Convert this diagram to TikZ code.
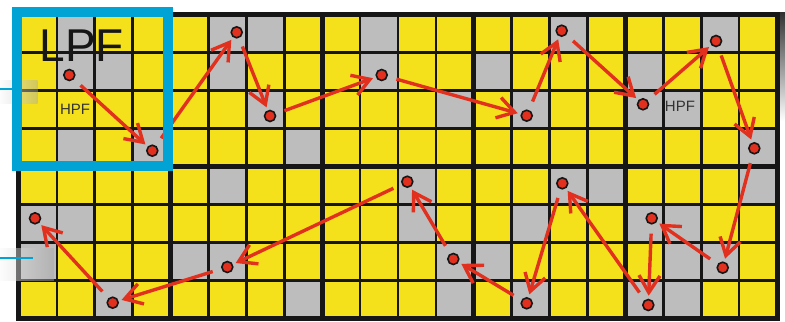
\documentclass[tikz,border=0pt]{standalone}
\usepackage{fontspec}
\usepackage{tikz}
\usetikzlibrary{arrows.meta}
\newfontfamily\labelfont{Liberation Sans}

\definecolor{cellyellow}{HTML}{F5E11B}
\definecolor{cellgray}{HTML}{BDBDBD}
\definecolor{gridblack}{HTML}{161616}
\definecolor{pathred}{HTML}{E2301F}
\definecolor{lpfblue}{HTML}{00A3D3}

\begin{document}
\begin{tikzpicture}[x=37.9pt,y=-38pt,
  dot/.style={circle,draw=gridblack,line width=1.6pt,fill=pathred,minimum size=11pt,inner sep=0pt},
  jump/.style={pathred,line width=3.4pt,-{Straight Barb[length=17pt,width=21pt]},shorten <=9pt,shorten >=3pt},
  thin grid/.style={gridblack,line width=2.7pt},
  thick grid/.style={gridblack,line width=5pt}]

\useasboundingbox (-0.5013,-0.3816) rectangle (20.211,8.066);

% cells
\fill[cellyellow] (0,0) rectangle (20,8);
\foreach \c/\r in {1/0,1/1,2/1,1/3,3/3, 5/0,6/0,5/1,6/2,7/3, 9/0,9/1,11/2,
  14/0,12/1,13/2, 18/0,16/1,16/2,17/2,19/3,
  0/5,1/5,0/6,2/7, 5/4,4/6,5/6,7/7, 10/4,10/5,11/6,11/7,
  14/4,15/4,13/5,12/6,13/7, 19/4,16/5,17/5,17/6,18/6,16/7,17/7}
  \fill[cellgray] (\c,\r) rectangle ++(1,1);

% grid lines
\foreach \i in {1,...,19} \draw[thin grid] (\i,0) -- (\i,8);
\foreach \j in {1,...,7} \draw[thin grid] (0,\j) -- (20,\j);
\foreach \i in {4,8,12,16} \draw[thick grid] (\i,0) -- (\i,8);
\draw[thick grid] (0,4) -- (20,4);
\draw[thick grid] (0,0) rectangle (20,8);

% shadows at the edges
\shade[left color=gray!5,right color=gray!70,opacity=0.45] (-0.5013,1.742) rectangle (0.493,2.329);
\shade[left color=gray!5,right color=gray!70,opacity=0.45] (-0.5013,6.145) rectangle (0.923,6.987);
\shade[top color=black!80,bottom color=white] (20.079,-0.04) rectangle (20.211,2.8);

% sample points
\node[dot] (d1) at (1.327,1.592) {};
\node[dot] (d2) at (3.517,3.584) {};
\node[dot] (d3) at (5.744,0.468) {};
\node[dot] (d4) at (6.623,2.671) {};
\node[dot] (d5) at (9.570,1.592) {};
\node[dot] (d6) at (13.396,2.663) {};
\node[dot] (d7) at (14.319,0.426) {};
\node[dot] (d8) at (16.464,2.363) {};
\node[dot] (d9) at (18.391,0.697) {};
\node[dot] (d10) at (19.401,3.521) {};
\node[dot] (d11) at (18.567,6.663) {};
\node[dot] (d12) at (16.694,5.363) {};
\node[dot] (d13) at (16.604,7.645) {};
\node[dot] (d14) at (14.335,4.442) {};
\node[dot] (d15) at (13.396,7.600) {};
\node[dot] (d16) at (11.459,6.434) {};
\node[dot] (d17) at (10.245,4.400) {};
\node[dot] (d18) at (5.496,6.645) {};
\node[dot] (d19) at (2.472,7.584) {};
\node[dot] (d20) at (0.422,5.363) {};

\foreach \a/\b in {d1/d2,d2/d3,d3/d4,d4/d5,d5/d6,d6/d7,d7/d8,d8/d9,d9/d10,d10/d11,
  d11/d12,d12/d13,d13/d14,d14/d15,d15/d16,d16/d17,d17/d18,d18/d19,d19/d20}
  \draw[jump] (\a) -- (\b);

% LPF window
\draw[lpfblue,line width=10pt] (-0.061,-0.066) rectangle (3.939,3.987);
\draw[lpfblue,line width=2pt] (-0.5013,1.968) -- (-0.061,1.968);
\draw[lpfblue,line width=2pt] (-0.5013,6.400) -- (0.369,6.400);

\node[font=\labelfont\fontsize{46}{46}\selectfont,text=gridblack] (lpf) at (1.655,0.821) {LPF};
\node[font=\labelfont\fontsize{15}{15}\selectfont,text=black!80] (hpf1) at (1.478,2.487) {HPF};
\node[font=\labelfont\fontsize{15}{15}\selectfont,text=black!80] (hpf2) at (17.440,2.408) {HPF};

\end{tikzpicture}
\end{document}
